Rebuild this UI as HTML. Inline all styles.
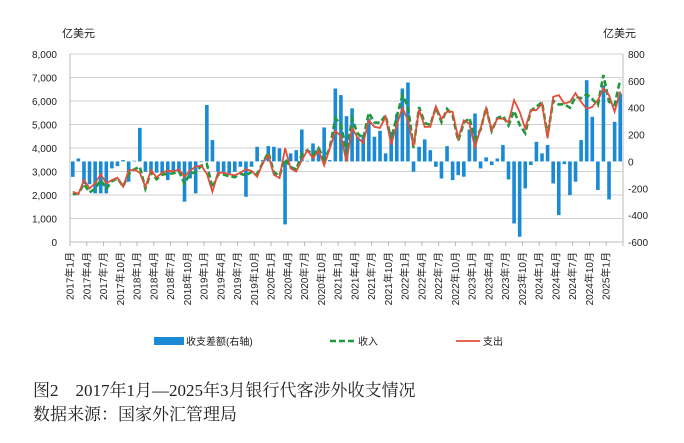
<!DOCTYPE html>
<html><head><meta charset="utf-8">
<style>
body{margin:0;background:#fff;width:684px;height:443px;overflow:hidden;font-family:"Liberation Sans","Noto Sans CJK SC",sans-serif;}
svg{position:absolute;left:0;top:0}
.cap{position:absolute;left:33px;font-family:"Liberation Serif","Noto Serif CJK SC",serif;font-size:17px;color:#222;white-space:nowrap}
</style></head><body>
<svg id="chart" width="684" height="443" xmlns="http://www.w3.org/2000/svg"></svg>
<div class="cap" style="top:376px">图2　2017年1月—2025年3月银行代客涉外收支情况</div>
<div class="cap" style="top:400px">数据来源：国家外汇管理局</div>
<script>
const expense=[2140,2040,2640,2280,2500,2880,2500,2640,2740,2350,3040,3090,2950,2350,3060,2750,2950,3040,3000,3090,2780,3040,3210,3250,2900,2140,2950,2950,2880,2840,2950,3090,3030,2780,3350,3700,2860,2720,4000,3130,3000,3490,3900,3570,3900,3260,3970,4720,4510,3420,4850,4430,4220,5180,4900,4850,5330,4140,4990,5700,5190,4080,5630,4900,4900,5770,5230,5550,5540,4410,5180,5040,4040,4830,5690,4750,5250,5250,5100,6040,5540,4830,5610,5610,5890,4410,6180,6250,5890,5960,6330,5960,5670,5750,6040,6540,6250,5540,6400];
const balance=[-115,22,-169,-170,-238,-238,-238,-52,-35,10,-151,5,250,-77,-89,-84,-84,-139,-77,-77,-300,-127,-238,-5,420,159,-77,-77,-89,-77,-40,-263,-40,109,10,114,109,97,-469,60,84,238,5,134,97,253,10,543,494,337,395,184,196,320,184,228,60,220,352,543,588,-77,109,164,84,-40,-127,114,-139,-102,-114,238,357,-52,30,-27,22,122,-134,-462,-561,-201,-27,146,60,122,-164,-400,-20,-251,-151,159,605,332,-213,568,-283,295,506];
const income=[2025,2062,2471,2110,2262,2642,2262,2588,2705,2360,2889,3095,3200,2273,2971,2666,2866,2901,2923,3013,2480,2913,2972,3245,3320,2299,2873,2873,2791,2763,2910,2827,2990,2889,3360,3814,2969,2817,3531,3190,3084,3728,3905,3704,3997,3513,3980,5263,5004,3757,5245,4614,4416,5500,5084,5078,5390,4360,5342,6243,5778,4003,5739,5064,4984,5730,5103,5664,5401,4308,5066,5278,4397,4778,5720,4723,5272,5372,4966,5578,4979,4629,5583,5756,5950,4532,6016,5850,5870,5709,6179,6119,6275,6082,5827,7108,5967,5835,6906];
const leftTicks=[0,1000,2000,3000,4000,5000,6000,7000,8000];
const rightTicks=[-600,-400,-200,0,200,400,600,800];
const startYear=2017;

const svg=document.getElementById('chart');
const NS='http://www.w3.org/2000/svg';
const X0=70,X1=623,Y0=242,Y1=54;
const n=expense.length, slot=(X1-X0)/n;
function xs(i){return X0+(i+0.5)*slot;}
function yl(v){return Y0-(v/8000)*(Y0-Y1);}
function yr(v){return Y0-((v+600)/1400)*(Y0-Y1);}
function mk(tag,attrs){const e=document.createElementNS(NS,tag);for(const k in attrs)e.setAttribute(k,attrs[k]);svg.appendChild(e);return e;}

leftTicks.forEach(t=>{
  const g=mk('line',{x1:X0,x2:X1,y1:yl(t),y2:yl(t),stroke:t===0?'#bbb':'#d0d0d0','stroke-width':1});
  
  
  const tx=mk('text',{x:57,y:yl(t)+4,'text-anchor':'end','font-size':10,fill:'#222'});
  tx.textContent=t.toLocaleString('en-US');
  
  
});
rightTicks.forEach(t=>{
  const tx=mk('text',{x:628,y:yr(t)+4,'text-anchor':'start','font-size':10,fill:'#222'});
  tx.textContent=String(t);
  
  
});
const la=mk('line',{x1:X0,x2:X0,y1:Y1,y2:Y0,stroke:'#bbb'});


const ra=mk('line',{x1:X1,x2:X1,y1:Y1,y2:Y0,stroke:'#bbb'});


const u1=mk('text',{x:62,y:37,'font-size':11,fill:'#222'});u1.textContent='亿美元';


const u2=mk('text',{x:603,y:37,'font-size':11,fill:'#222'});u2.textContent='亿美元';



// bars
balance.forEach((v,i)=>{
  const y0=yr(0),y=yr(v);
  const r=mk('rect',{x:xs(i)-1.8,y:Math.min(y0,y),width:3.6,height:Math.max(0.5,Math.abs(y-y0)),fill:'#1a8ad4'});
  
  
});
// x ticks & labels
for(let i=0;i<=n;i+=3){
  const x=X0+i*slot;
  const tk=mk('line',{x1:x,x2:x,y1:Y0,y2:Y0+4,stroke:'#bbb'});
  
  
  if(i<n){
    const yr_=startYear+Math.floor(i/12), m=i%12+1;
    const t=mk('text',{x:0,y:0,'font-size':10,fill:'#222','text-anchor':'end',transform:`translate(${x+3.5},252) rotate(-90)`});
    t.textContent=yr_+'年'+m+'月';
    
    
  }
}
function line(arr,attrs,name){
  const d=arr.map((v,i)=>(i?'L':'M')+xs(i).toFixed(1)+','+yl(v).toFixed(1)).join('');
  const p=mk('path',Object.assign({d:d,fill:'none'},attrs));
  
  
}
line(income,{stroke:'#1e9a3c','stroke-width':2.6,'stroke-dasharray':'6,3'},'income-line');
line(expense,{stroke:'#e0503a','stroke-width':1.8},'expense-line');

// legend
const lb=mk('rect',{x:154,y:337,width:30,height:8,fill:'#1a8ad4'});


const lt1=mk('text',{x:186,y:345,'font-size':10,fill:'#222'});lt1.textContent='收支差额(右轴)';


const lg=mk('line',{x1:330,x2:355,y1:341,y2:341,stroke:'#1e9a3c','stroke-width':2.6,'stroke-dasharray':'6,3'});


const lt2=mk('text',{x:358,y:345,'font-size':10,fill:'#222'});lt2.textContent='收入';


const lr=mk('line',{x1:456,x2:480,y1:341,y2:341,stroke:'#e0503a','stroke-width':1.8});


const lt3=mk('text',{x:483,y:345,'font-size':10,fill:'#222'});lt3.textContent='支出';


</script>
</body></html>
